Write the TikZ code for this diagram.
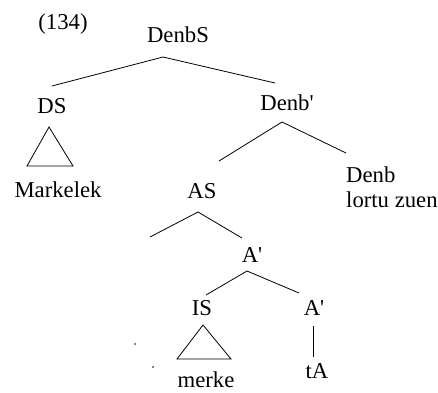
\documentclass[tikz,border=0pt]{standalone}
\usepackage{fontspec}
\setmainfont{Liberation Serif}
\begin{document}
\begin{tikzpicture}[x=1pt, y=-1pt,
  cat/.style={inner sep=0pt, anchor=base, font=\fontsize{22.7}{25}\selectfont},
  branch/.style={line width=0.8pt},
]
  \useasboundingbox (0,0) rectangle (438,392);
  % Labels
  \node[cat] (num) at (63,29) {(134)};
  \node[cat] (denbS) at (178,42) {DenbS};
  \node[cat] (ds) at (52,113) {DS};
  \node[cat] (markelek) at (58,197) {Markelek};
  \node[cat] (denbBar) at (287,110) {Denb\textquotesingle};
  \node[cat, anchor=base west, align=left] (denb) at (346,207) {Denb\\lortu zuen};
  \node[cat] (as) at (202,198) {AS};
  \node[cat] (aBar) at (252,262) {A\textquotesingle};
  \node[cat] (is) at (202,315) {IS};
  \node[cat] (aBarLow) at (314,315) {A\textquotesingle};
  \node[cat] (tA) at (317,378) {tA};
  \node[cat, text depth=0pt] (merke) at (206,387) {merke};
  % Branch points
  \coordinate (denbS-a) at (163,57);
  \coordinate (ds-t) at (52,86);
  \coordinate (denbBar-t) at (275,83);
  \coordinate (denbBar-a) at (282,122);
  \coordinate (as-t) at (219,161);
  \coordinate (denb-t) at (346,153);
  \coordinate (as-a) at (198,212);
  \coordinate (asSpec) at (150,237);
  \coordinate (aBar-t) at (242,238);
  \coordinate (aBar-a) at (247,271);
  \coordinate (is-t) at (206,295);
  \coordinate (aBarLow-t) at (299,293);
  \coordinate (aBarLow-b) at (313,326);
  \coordinate (tA-t) at (313,357);
  % Branches
  \draw[branch] (ds-t) -- (denbS-a) -- (denbBar-t);
  \draw[branch] (as-t) -- (denbBar-a) -- (denb-t);
  \draw[branch] (asSpec) -- (as-a) -- (aBar-t);
  \draw[branch] (is-t) -- (aBar-a) -- (aBarLow-t);
  \draw[branch] (aBarLow-b) -- (tA-t);
  % Triangles
  \draw[branch] (49,127) -- (27,166) -- (73,166) -- cycle;
  \draw[branch] (203,325) -- (177,359) -- (231,359) -- cycle;
  % Stray dots
  \fill (135,344) circle (0.8);
  \fill (153,367) circle (0.8);
\end{tikzpicture}
\end{document}
